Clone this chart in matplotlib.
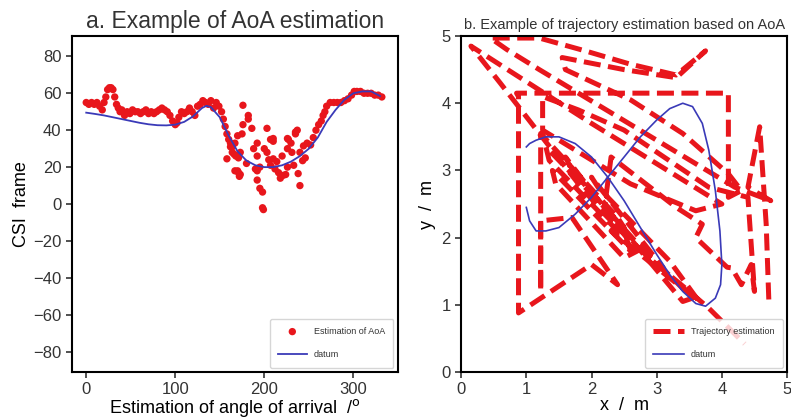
"""
plot.py
-------
Two-panel figure: (a) AoA estimation scatter vs. datum curve,
(b) trajectory estimation from AoA vs. datum trajectory.
"""

import matplotlib
matplotlib.use("Agg")
import matplotlib.pyplot as plt

# ---------------------------------------------------------------------------
# Data
# ---------------------------------------------------------------------------

# panel a: estimated AoA points
aoa_x = [0, 3, 6, 9, 12, 15, 18, 20, 22, 24, 26, 28, 30, 32, 34, 36, 38, 40,
         43, 46, 49, 52, 55, 58, 61, 64, 67, 70, 73, 76, 79, 82, 85, 88, 91,
         94, 97, 100, 102, 104, 107, 110, 113, 116, 119, 122, 125, 128, 131,
         134, 137, 140, 143, 146, 149, 152, 154, 156, 158, 160, 162, 164, 166,
         168, 170, 172, 173,
         176, 182, 182, 176, 186, 203, 175, 170, 162, 167, 192, 207, 210, 227,
         237, 235, 164, 173, 188, 192, 171, 203, 210, 220, 226, 231, 240, 244,
         248, 167, 171, 190, 192, 195, 207, 212, 216, 221, 226, 233, 243, 246,
         238, 240, 192, 195, 198, 198, 199, 158, 214, 218, 224, 180, 200, 205,
         230, 235, 226, 210,
         252, 255, 258, 261, 264, 266, 268, 270, 274, 278, 282, 286, 290, 294,
         298, 301, 304, 308, 312, 316, 320, 324, 328, 332]
aoa_y = [55, 54, 55, 54, 55, 53, 51, 55, 58, 62, 63, 63, 62, 58, 54, 52, 50, 51,
         48, 50, 49, 51, 50, 50, 49, 50, 51, 49, 50, 49, 50, 51, 52, 51, 50,
         48, 45, 43, 44, 47, 50, 49, 50, 52, 50, 48, 53, 54, 56, 55, 54, 56,
         52, 55, 53, 50, 46, 42, 38, 35, 31, 28, 27, 26, 18, 15, 16,
         53.5, 48, 46, 43, 41, 41, 38, 37, 33, 33, 33, 35, 34, 35,
         40, 38, 31, 28, 30, 26, 25, 28, 24.5, 26, 30, 28, 28, 31.5,
         33, 18, 17, 19, 18, 20, 21, 19, 17, 15.5, 20, 21, 23.5, 25,
         16.5, 10, 13, 8.5, 6.5, -2, -3, 24.5, 23, 14, 16, 22, 30, 24,
         33, 39, 35.5, 35.5,
         32, 36, 40, 43, 45, 48, 50, 53, 55, 55, 55, 55, 56, 57,
         59, 61, 61, 61, 60, 60, 60, 59, 59, 58]

# panel a: datum curve
datum_a_x = [0, 10, 20, 30, 40, 50, 60, 70, 80, 90, 100, 110, 120, 130, 135,
             140, 150, 160, 170, 180, 190, 200, 210, 220, 230, 240, 250, 260,
             270, 280, 290, 300, 310, 320, 330]
datum_a_y = [49.5, 48.8, 48, 47, 46, 45, 44, 43.2, 42.7, 42.6, 43, 44.5, 47.5,
             52, 53.2, 52.5, 47, 37, 28.5, 23.5, 21, 20, 20, 21, 23, 26, 30,
             36, 44.5, 51, 56.5, 60, 61, 61, 58.5]

# panel b: estimated trajectory (x, y in m)
traj_x = [4.72, 4.68, 4.58, 4.4, 4.75,
          4.2, 3.6, 3.0, 2.4, 1.8, 1.2, 0.7, 0.45,
          1.2, 1.9, 2.6, 3.3, 3.75,
          3.3, 2.5, 1.55, 1.6, 2.6, 3.4, 4.1, 4.3,
          4.1, 4.1, 0.85, 0.88, 0.88, 2.0,
          2.4, 1.7, 1.22, 1.22, 1.22, 2.4, 2.5, 1.3, 1.35, 2.55, 2.6, 1.4,
          1.45, 2.5, 2.7, 1.6, 1.7, 2.9, 3.1, 2.0, 2.1, 3.2,
          3.65, 2.3, 2.4, 3.55, 3.4, 2.2,
          2.3, 3.3, 3.7, 3.6, 4.08, 4.15, 4.3, 4.45, 4.5, 4.4,
          3.8, 2.5, 1.8, 1.25, 1.25, 2.6, 3.6, 4.0,
          2.0, 0.15,
          0.6, 1.0, 1.4, 1.8, 2.2, 2.6, 3.0, 3.4, 3.8, 4.35]
traj_y = [1.08, 2.2, 3.65, 2.75, 2.55,
          2.75, 3.1, 3.45, 3.8, 4.15, 4.5, 4.8, 4.97,
          4.97, 4.78, 4.58, 4.42, 4.78,
          4.38, 4.5, 4.68, 4.5, 4.05, 3.55, 2.95, 2.7,
          2.6, 4.15, 4.15, 4.1, 0.88, 1.6,
          1.3, 2.3, 2.25, 1.2, 3.55, 2.3, 2.15, 3.35, 3.15, 1.95, 1.8, 3.0,
          2.8, 1.7, 1.8, 3.2, 3.0, 1.7, 1.55, 2.9, 2.75, 1.65,
          1.05, 2.1, 2.2, 1.1, 1.05, 2.45,
          3.2, 2.45, 2.2, 2.0, 1.56, 1.55, 1.3, 1.6, 1.2, 2.6,
          2.75, 3.6, 3.9, 4.1, 3.6, 2.8, 2.4, 2.5,
          3.7, 4.85,
          4.3, 3.8, 3.3, 2.8, 2.35, 1.95, 1.6, 1.28, 0.95, 0.42]

# panel b: datum trajectory
datum_b_x = [1.0, 1.05, 1.15, 1.3, 1.5, 1.75, 2.0, 2.25, 2.5, 2.75, 3.0, 3.2,
             3.4, 3.55, 3.7, 3.8, 3.9, 3.97, 4.0, 3.98, 3.9, 3.75, 3.6, 3.4,
             3.2, 3.0, 2.75, 2.5, 2.25, 2.0, 1.75, 1.5, 1.3, 1.15, 1.05, 1.0]
datum_b_y = [2.45, 2.25, 2.1, 2.1, 2.15, 2.35, 2.6, 2.9, 3.2, 3.5, 3.75, 3.92,
             4.0, 3.95, 3.7, 3.3, 2.7, 2.1, 1.6, 1.3, 1.1, 0.98, 1.02, 1.2,
             1.45, 1.75, 2.15, 2.55, 2.9, 3.2, 3.4, 3.5, 3.5, 3.45, 3.4, 3.35]

# ---------------------------------------------------------------------------
# Styling
# ---------------------------------------------------------------------------

RED  = "#e8161c"
BLUE = "#3a3ab8"

plt.rcParams.update({
    "font.family":       ["Liberation Sans", "DejaVu Sans"],
    "font.size":         12,
    "axes.linewidth":    1.5,
    "xtick.major.width": 1.2,
    "ytick.major.width": 1.2,
    "xtick.major.size":  4,
    "ytick.major.size":  4,
    "xtick.labelsize":   12,
    "ytick.labelsize":   12,
    "text.color":        "#333333",
    "xtick.color":       "#333333",
    "ytick.color":       "#333333",
})

LEGEND_KW = dict(loc="lower right", fontsize=6.5, borderpad=0.9,
                 labelspacing=1.6, framealpha=0.8, fancybox=True)

fig = plt.figure(figsize=(7.91, 4.19), dpi=100)
ax_a = fig.add_axes([0.091, 0.112, 0.412, 0.802])
ax_b = fig.add_axes([0.583, 0.112, 0.412, 0.802])

# --- panel a ---
ax_a.scatter(aoa_x, aoa_y, s=28, color=RED, edgecolors="none",
             label="Estimation of AoA", zorder=2)
ax_a.plot(datum_a_x, datum_a_y, color=BLUE, linewidth=1.3, label="datum", zorder=3)
ax_a.set_xlim(-16, 350)
ax_a.set_ylim(-91, 91)
ax_a.set_xticks([0, 100, 200, 300])
ax_a.set_yticks(range(-80, 81, 20))
ax_a.set_title("a. Example of AoA estimation", fontsize=16.5, pad=6)
ax_a.set_ylabel("CSI  frame", fontsize=13, labelpad=2)
ax_a.set_xlabel(r"Estimation of angle of arrival  /$^\mathrm{o}$", fontsize=13, labelpad=0)
ax_a.legend(handlelength=3.2, **LEGEND_KW)

# --- panel b ---
ax_b.plot(traj_x, traj_y, color=RED, linewidth=3.6, linestyle=(0, (3.4, 1.5)),
          label="Trajectory estimation", zorder=2)
ax_b.plot(datum_b_x, datum_b_y, color=BLUE, linewidth=1.2, label="datum", zorder=3)
ax_b.set_xlim(0, 5)
ax_b.set_ylim(0, 5)
ax_b.set_xticks(range(0, 6))
ax_b.set_yticks(range(0, 6))
ax_b.set_title("b. Example of trajectory estimation based on AoA",
               fontsize=10.5, pad=5)
ax_b.set_ylabel("y  /  m", fontsize=13, labelpad=4)
ax_b.set_xlabel("x  /  m", fontsize=13, labelpad=0)
ax_b.legend(handlelength=3.4, **LEGEND_KW)

fig.savefig("out.png", dpi=100)
